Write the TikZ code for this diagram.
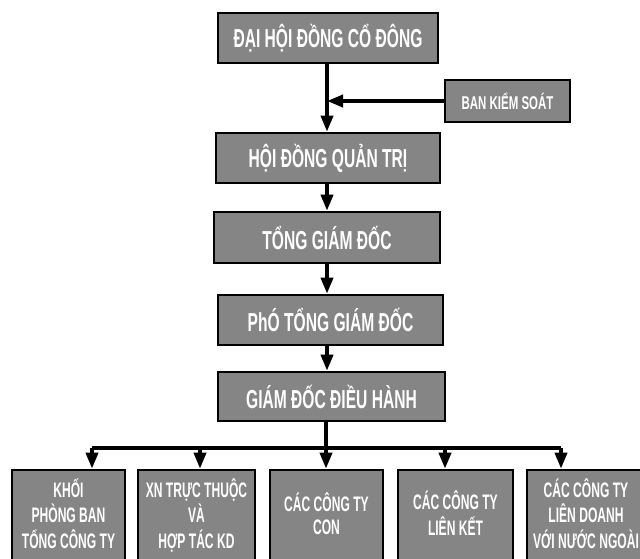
\documentclass[tikz,border=0pt]{standalone}
\usepackage{fontspec}
\setmainfont{Liberation Sans}
\usetikzlibrary{arrows.meta}
\definecolor{boxgray}{HTML}{858585}
\newcommand{\bigtxt}[1]{\scalebox{0.6}[1]{\fontsize{26}{28}\selectfont\bfseries #1}}
\newcommand{\smalltxt}[1]{\scalebox{0.62}[1]{\fontsize{18.5}{20}\selectfont\bfseries #1}}
\newcommand{\bottxt}[1]{\scalebox{0.575}[1]{\fontsize{21}{23.5}\selectfont\bfseries\begin{tabular}{@{}c@{}}#1\end{tabular}}}
\tikzset{
  orgbox/.style={draw=black, line width=2.6pt, fill=boxgray, text=white, inner sep=0pt, align=center},
  conn/.style={line width=3.6pt, draw=black, -{Triangle[length=16pt,width=12pt]}},
  plain/.style={line width=3.6pt, draw=black}
}
\begin{document}
\begin{tikzpicture}[x=1pt,y=-1pt]
\useasboundingbox (0,0) rectangle (640,559);
\clip (0,0) rectangle (640,559);
\fill[white] (0,0) rectangle (640,559);
% top chain
\node[orgbox, minimum width=220pt, minimum height=50pt] (dh) at (328,38) {\bigtxt{ĐẠI HỘI ĐỒNG CỔ ĐÔNG}};
\node[orgbox, minimum width=125pt, minimum height=42pt] (bks) at (507.5,101) {\smalltxt{BAN KIỂM SOÁT}};
\node[orgbox, minimum width=224pt, minimum height=50pt] (hdqt) at (328,158) {\bigtxt{HỘI ĐỒNG QUẢN TRỊ}};
\node[orgbox, minimum width=226pt, minimum height=51pt] (tgd) at (327,237.5) {\bigtxt{TỔNG GIÁM ĐỐC}};
\node[orgbox, minimum width=225pt, minimum height=50pt] (ptgd) at (330.5,320) {\bigtxt{PhÓ TỔNG GIÁM ĐỐC}};
\node[orgbox, minimum width=227pt, minimum height=49pt] (gddh) at (331.5,396.5) {\bigtxt{GIÁM ĐỐC ĐIỀU HÀNH}};
% bottom row
\node[orgbox, minimum width=113pt, minimum height=94pt] (b1) at (68.5,517) {\bottxt{KHỐI\\PHÒNG BAN\\TỔNG CÔNG TY}};
\node[orgbox, minimum width=117pt, minimum height=94pt] (b2) at (196.5,517) {\bottxt{XN TRỰC THUỘC\\VÀ\\HỢP TÁC KD}};
\node[orgbox, minimum width=113pt, minimum height=94pt] (b3) at (326.5,517) {\bottxt{CÁC CÔNG TY\\CON}};
\node[orgbox, minimum width=115pt, minimum height=94pt] (b4) at (455.5,517) {\bottxt{CÁC CÔNG TY\\LIÊN KẾT}};
\node[orgbox, minimum width=118pt, minimum height=94pt] (b5) at (586,517) {\bottxt{CÁC CÔNG TY\\LIÊN DOANH\\VỚI NƯỚC NGOÀI}};
% vertical chain connectors
\coordinate (vx) at (327,0);
\draw[conn] (vx |- dh.south) -- (vx |- hdqt.north);
\draw[conn] (bks.west) -- (vx |- bks.west);
\draw[conn] (vx |- hdqt.south) -- (vx |- tgd.north);
\draw[conn] (vx |- tgd.south) -- (vx |- ptgd.north);
\draw[conn] (vx |- ptgd.south) -- (vx |- gddh.north);
% distribution bar
\coordinate (h1) at (92,448);
\coordinate (h2) at (200,448);
\coordinate (h3) at (326,448);
\coordinate (h4) at (445,448);
\coordinate (h5) at (561,448);
\draw[plain] (h1) -- (h5);
\draw[conn] (h3 |- gddh.south) -- (h3 |- b3.north);
\draw[conn] (h1) -- (h1 |- b1.north);
\draw[conn] (h2) -- (h2 |- b2.north);
\draw[conn] (h4) -- (h4 |- b4.north);
\draw[conn] (h5) -- (h5 |- b5.north);
\end{tikzpicture}
\end{document}
